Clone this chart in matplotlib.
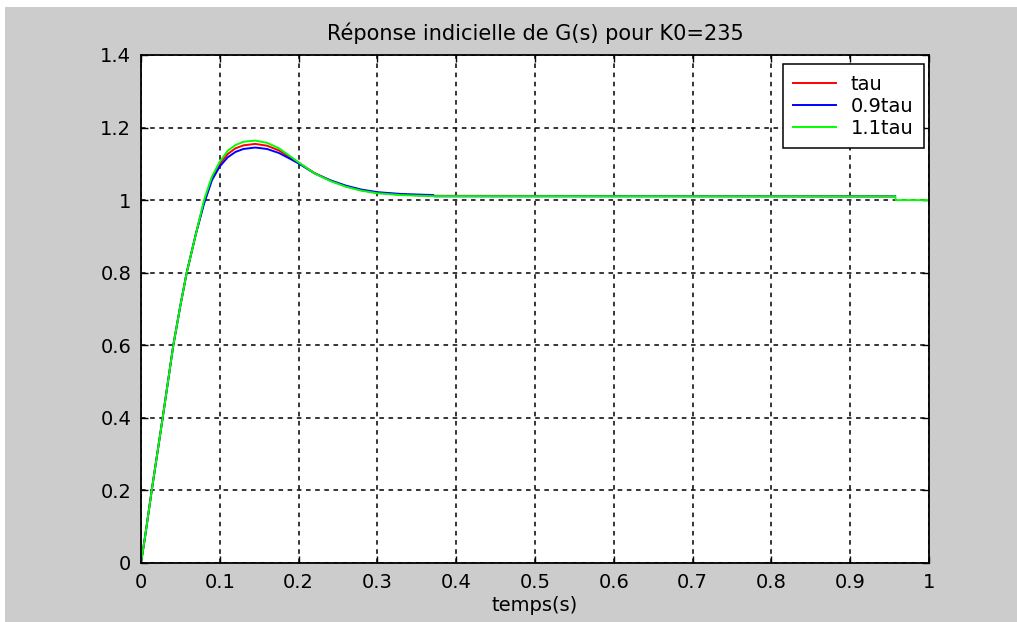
import matplotlib
matplotlib.use("Agg")
import matplotlib.pyplot as plt
from matplotlib.patches import Rectangle

plt.rcParams['font.family'] = ['DejaVu Sans']

# courbes (temps en s)
t_tau = [0, 0.005, 0.0136, 0.0275, 0.041, 0.05, 0.058, 0.07, 0.08, 0.09, 0.1,
         0.11, 0.12, 0.13, 0.145, 0.16, 0.175, 0.19, 0.2, 0.22, 0.24, 0.26,
         0.28, 0.3, 0.33, 0.37, 0.957]
y_tau = [0, 0.07, 0.2, 0.4, 0.6, 0.71, 0.8, 0.91, 0.995, 1.06, 1.10,
         1.127, 1.143, 1.151, 1.155, 1.150, 1.137, 1.117, 1.103, 1.075, 1.054, 1.038,
         1.027, 1.020, 1.015, 1.012, 1.0105]

t_09 = [0, 0.005, 0.0136, 0.0275, 0.041, 0.05, 0.058, 0.07, 0.08, 0.09, 0.1,
        0.11, 0.12, 0.13, 0.145, 0.16, 0.175, 0.19, 0.2, 0.22, 0.24, 0.26,
        0.28, 0.3, 0.33, 0.371, 0.372, 0.957]
y_09 = [0, 0.07, 0.2, 0.4, 0.6, 0.71, 0.8, 0.91, 0.99, 1.055, 1.093,
        1.118, 1.133, 1.141, 1.145, 1.141, 1.130, 1.113, 1.101, 1.074, 1.055, 1.040,
        1.029, 1.022, 1.017, 1.014, 1.0105, 1.0105]

t_11 = [0, 0.005, 0.0136, 0.0275, 0.041, 0.05, 0.058, 0.07, 0.08, 0.09, 0.1,
        0.11, 0.12, 0.13, 0.145, 0.16, 0.175, 0.19, 0.2, 0.22, 0.24, 0.26,
        0.28, 0.3, 0.33, 0.37, 0.957, 0.958, 1.0]
y_11 = [0, 0.07, 0.2, 0.4, 0.6, 0.71, 0.8, 0.91, 1.0, 1.065, 1.106,
        1.136, 1.152, 1.161, 1.164, 1.158, 1.143, 1.120, 1.104, 1.074, 1.053, 1.037,
        1.026, 1.019, 1.014, 1.011, 1.0105, 1.0, 1.0]

xticks = [0, 0.1, 0.2, 0.3, 0.4, 0.5, 0.6, 0.7, 0.8, 0.9, 1]
xlabels = ['0', '0.1', '0.2', '0.3', '0.4', '0.5', '0.6', '0.7', '0.8', '0.9', '1']
yticks = [0, 0.2, 0.4, 0.6, 0.8, 1, 1.2, 1.4]
ylabels = ['0', '0.2', '0.4', '0.6', '0.8', '1', '1.2', '1.4']

fig = plt.figure(figsize=(10.17, 6.22), dpi=100, facecolor='white')
# fond gris façon fenêtre matlab
fig.patches.append(Rectangle((5 / 1017, 0), 1, 1 - 7 / 622, transform=fig.transFigure,
                             facecolor='#cccccc', edgecolor='none', zorder=-1))

ax = fig.add_axes([141 / 1017, 1 - 563 / 622, 788 / 1017, 508 / 622])
ax.set_facecolor('white')

ax.plot(t_tau, y_tau, color='#ff0000', lw=1.4, label='tau')
ax.plot(t_09, y_09, color='#0000ff', lw=1.4, label='0.9tau')
ax.plot(t_11, y_11, color='#00ff00', lw=1.4, label='1.1tau')

ax.set_xlim(0, 1)
ax.set_ylim(0, 1.4)
ax.set_xticks(xticks)
ax.set_xticklabels(xlabels)
ax.set_yticks(yticks)
ax.set_yticklabels(ylabels)
ax.tick_params(direction='in', length=5, width=1, top=True, right=True,
               labelsize=14, colors='black', pad=7)
ax.grid(True, color='black', linestyle=(0, (3, 3)), linewidth=1.1)
for s in ax.spines.values():
    s.set_linewidth(1.3)
    s.set_color('black')

ax.set_title('Réponse indicielle de G(s) pour K0=235', fontsize=15, pad=11)
ax.set_xlabel('temps(s)', fontsize=14, labelpad=3)

leg = ax.legend(loc='upper right', bbox_to_anchor=(0.9937, 0.982), fontsize=14,
                fancybox=False, framealpha=1, edgecolor='black', borderaxespad=0,
                handlelength=2.2, handletextpad=0.75, labelspacing=0.15, borderpad=0.55)
leg.get_frame().set_linewidth(1.1)

fig.savefig('out.png', dpi=100, facecolor=fig.get_facecolor())
